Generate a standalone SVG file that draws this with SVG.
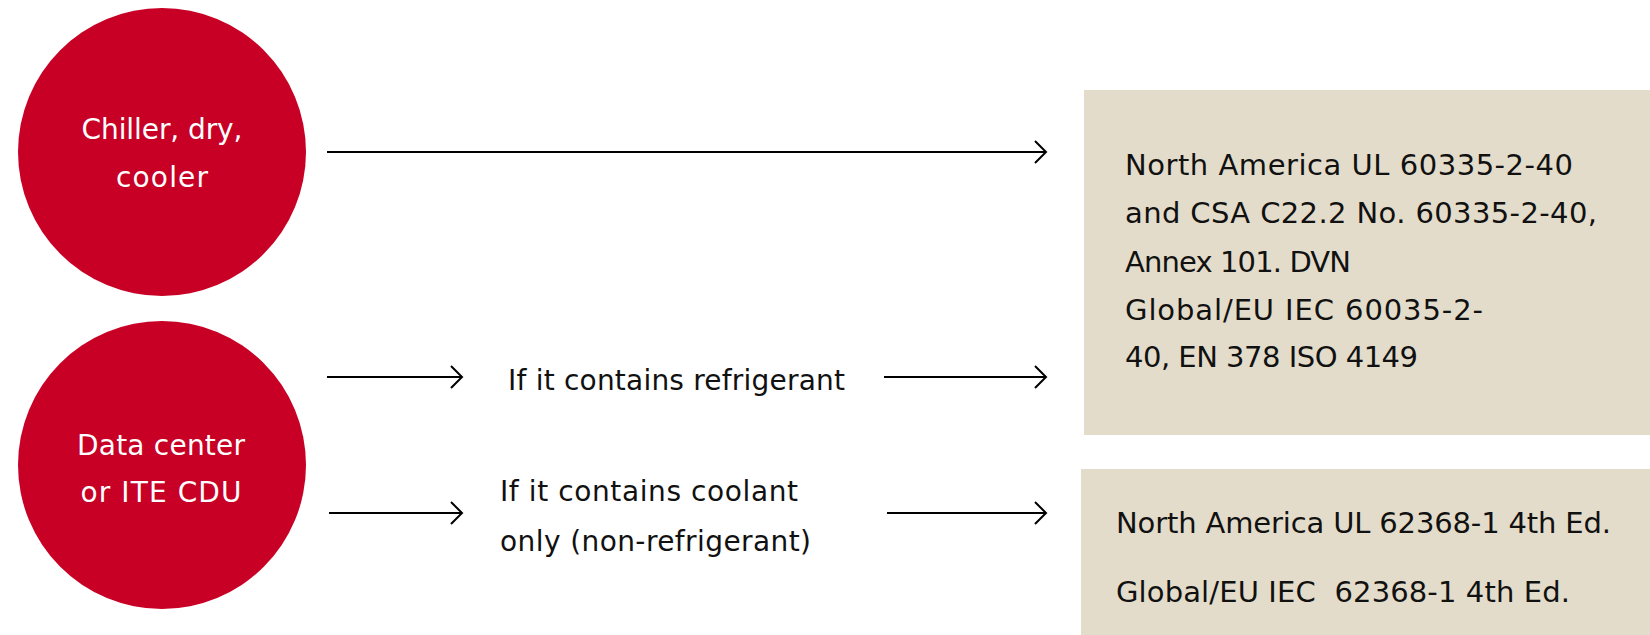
<svg xmlns="http://www.w3.org/2000/svg" width="1650" height="635" viewBox="0 0 1650 635">
<style>
.circle{fill:#C80025}
.ctext{font-family:"DejaVu Sans","Liberation Sans",sans-serif;font-size:28px;fill:#ffffff;text-anchor:middle}
.mtext{font-family:"DejaVu Sans","Liberation Sans",sans-serif;font-size:28px;fill:#111111}
.box{fill:#E4DCCA}
.btext{font-family:"DejaVu Sans","Liberation Sans",sans-serif;font-size:29px;fill:#111111;white-space:pre}
.conn{stroke:#000000;stroke-width:2;fill:none}
</style>
<defs>
<marker id="arrow" markerUnits="userSpaceOnUse" markerWidth="16" markerHeight="28" refX="13" refY="13" orient="auto">
<path d="M2,2 L13,13 L2,24" fill="none" stroke="#000000" stroke-width="2"/>
</marker>
</defs>
<g id="node-chiller">
<circle class="circle" cx="162" cy="152" r="144"/>
<text class="ctext" x="162" y="139" textLength="161" lengthAdjust="spacing">Chiller, dry,</text>
<text class="ctext" x="162" y="187" textLength="92" lengthAdjust="spacing">cooler</text>
</g>
<g id="node-cdu">
<circle class="circle" cx="162" cy="465" r="144"/>
<text class="ctext" x="161" y="455" textLength="168" lengthAdjust="spacing">Data center</text>
<text class="ctext" x="161" y="502" textLength="161" lengthAdjust="spacing">or ITE CDU</text>
</g>
<g id="node-refrigerant">
<text class="mtext" x="508" y="390" textLength="337" lengthAdjust="spacing">If it contains refrigerant</text>
</g>
<g id="node-coolant">
<text class="mtext" x="500" y="501" textLength="298" lengthAdjust="spacing">If it contains coolant</text>
<text class="mtext" x="500" y="551" textLength="311" lengthAdjust="spacing">only (non-refrigerant)</text>
</g>
<g id="node-standard-60335">
<rect class="box" x="1084" y="90" width="566" height="345"/>
<text class="btext" x="1125" y="175" textLength="448" lengthAdjust="spacing">North America UL 60335-2-40</text>
<text class="btext" x="1125" y="223" textLength="472" lengthAdjust="spacing">and CSA C22.2 No. 60335-2-40,</text>
<text class="btext" x="1125" y="272" textLength="226" lengthAdjust="spacing">Annex 101. DVN</text>
<text class="btext" x="1125" y="320" textLength="358" lengthAdjust="spacing">Global/EU IEC 60035-2-</text>
<text class="btext" x="1125" y="367" textLength="293" lengthAdjust="spacing">40, EN 378 ISO 4149</text>
</g>
<g id="node-standard-62368">
<rect class="box" x="1081" y="469" width="569" height="166"/>
<text class="btext" x="1116" y="533" textLength="495" lengthAdjust="spacing">North America UL 62368-1 4th Ed.</text>
<text class="btext" x="1116" y="602" textLength="454" lengthAdjust="spacing" xml:space="preserve">Global/EU IEC  62368-1 4th Ed.</text>
</g>
<g id="connectors">
<line class="conn" x1="327" y1="152" x2="1046" y2="152" marker-end="url(#arrow)"/>
<line class="conn" x1="327" y1="377" x2="462" y2="377" marker-end="url(#arrow)"/>
<line class="conn" x1="884" y1="377" x2="1046" y2="377" marker-end="url(#arrow)"/>
<line class="conn" x1="329" y1="513" x2="462" y2="513" marker-end="url(#arrow)"/>
<line class="conn" x1="887" y1="513" x2="1046" y2="513" marker-end="url(#arrow)"/>
</g>
</svg>
